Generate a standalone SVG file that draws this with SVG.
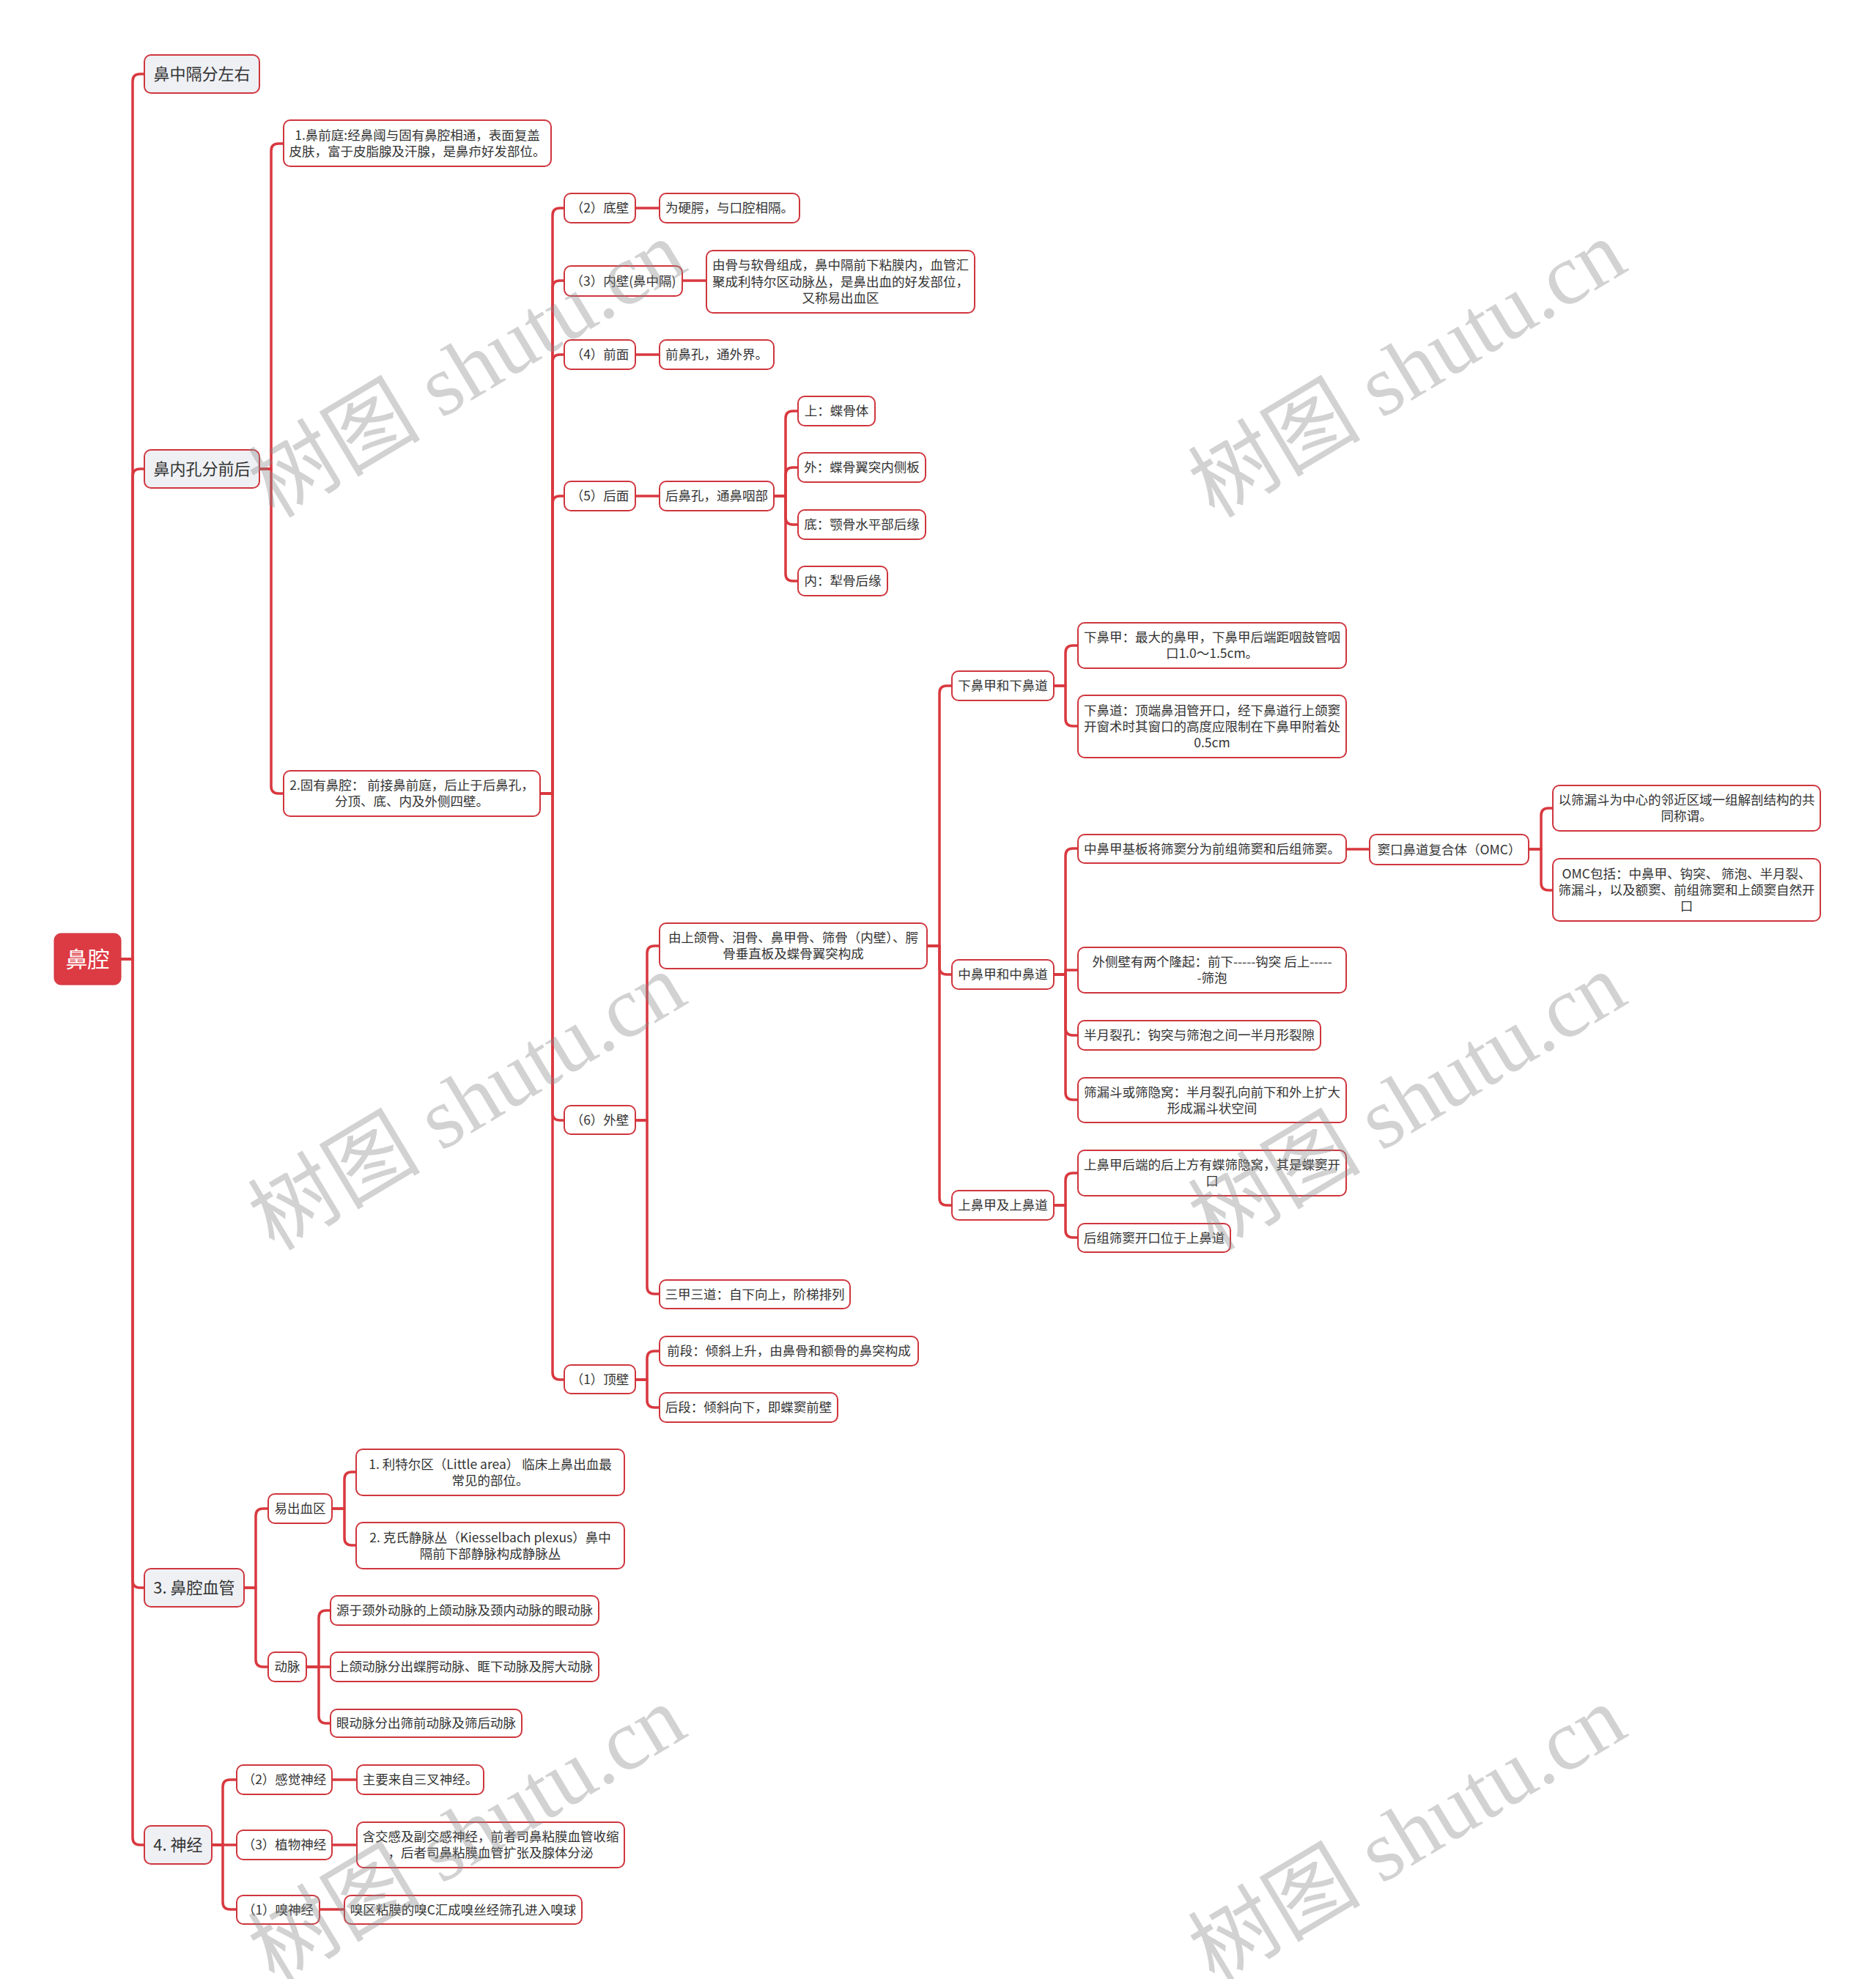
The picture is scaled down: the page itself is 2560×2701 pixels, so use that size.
<svg xmlns="http://www.w3.org/2000/svg" width="2560" height="2701" viewBox="0 0 2560 2701">
<style>
.n rect{fill:#fff;stroke:#cf363e;stroke-width:2}
.l1 rect{fill:#eef0f4}
.root rect{fill:#dd3b44;stroke:#d0343c;stroke-width:1}
text{font-family:"Noto Sans CJK SC","Noto Sans",sans-serif;font-size:17.5px;fill:#333;text-anchor:middle}
.l1 text{font-size:22px}
.root text{font-size:30px;fill:#fff}
.c path{fill:none;stroke:#d9383f;stroke-width:3.5;stroke-linejoin:round}
.wm text{font-family:"Liberation Serif","Noto Sans CJK SC",serif;font-size:118px;fill:#888;fill-opacity:0.38;text-anchor:middle}
</style>
<rect width="2560" height="2701" fill="#fff"/>
<g class="c" id="connectors">
<path d="M165 1309 H181 V111 Q181 101 191 101 H197"/>
<path d="M165 1309 H181 V650 Q181 640 191 640 H197"/>
<path d="M165 1309 H181 V2157 Q181 2167 191 2167 H197"/>
<path d="M165 1309 H181 V2508 Q181 2518 191 2518 H197"/>
<path d="M354 640 H370 V206 Q370 196 380 196 H387"/>
<path d="M354 640 H370 V1073 Q370 1083 380 1083 H387"/>
<path d="M737 1083 H754 V294 Q754 284 764 284 H770"/>
<path d="M737 1083 H754 V393 Q754 383 764 383 H770"/>
<path d="M737 1083 H754 V494 Q754 484 764 484 H770"/>
<path d="M737 1083 H754 V687 Q754 677 764 677 H770"/>
<path d="M737 1083 H754 V1519 Q754 1529 764 1529 H770"/>
<path d="M737 1083 H754 V1873 Q754 1883 764 1883 H770"/>
<path d="M867 284 H900"/>
<path d="M931 383 H964"/>
<path d="M867 484 H900"/>
<path d="M867 677 H900"/>
<path d="M1056 677 H1072 V571 Q1072 561 1082 561 H1089"/>
<path d="M1056 677 H1072 V648 Q1072 638 1082 638 H1089"/>
<path d="M1056 677 H1072 V706 Q1072 716 1082 716 H1089"/>
<path d="M1056 677 H1072 V783 Q1072 793 1082 793 H1089"/>
<path d="M867 1529 H883 V1301 Q883 1291 893 1291 H900"/>
<path d="M867 1529 H883 V1756 Q883 1766 893 1766 H900"/>
<path d="M1265 1291 H1282 V946 Q1282 936 1292 936 H1299"/>
<path d="M1265 1291 H1282 V1320 Q1282 1330 1292 1330 H1299"/>
<path d="M1265 1291 H1282 V1635 Q1282 1645 1292 1645 H1299"/>
<path d="M1438 936 H1454 V891 Q1454 881 1464 881 H1471"/>
<path d="M1438 936 H1454 V981 Q1454 991 1464 991 H1471"/>
<path d="M1438 1330 H1454 V1168 Q1454 1158 1464 1158 H1471"/>
<path d="M1438 1330 H1454 V1324 H1471"/>
<path d="M1438 1330 H1454 V1403 Q1454 1413 1464 1413 H1471"/>
<path d="M1438 1330 H1454 V1491 Q1454 1501 1464 1501 H1471"/>
<path d="M1837 1159 H1869"/>
<path d="M2086 1159 H2103 V1113 Q2103 1103 2113 1103 H2119"/>
<path d="M2086 1159 H2103 V1205 Q2103 1215 2113 1215 H2119"/>
<path d="M1438 1645 H1454 V1611 Q1454 1601 1464 1601 H1471"/>
<path d="M1438 1645 H1454 V1679 Q1454 1689 1464 1689 H1471"/>
<path d="M867 1883 H883 V1854 Q883 1844 893 1844 H900"/>
<path d="M867 1883 H883 V1911 Q883 1921 893 1921 H900"/>
<path d="M333 2167 H349 V2069 Q349 2059 359 2059 H366"/>
<path d="M333 2167 H349 V2265 Q349 2275 359 2275 H366"/>
<path d="M453 2059 H470 V2019 Q470 2009 480 2009 H486"/>
<path d="M453 2059 H470 V2099 Q470 2109 480 2109 H486"/>
<path d="M418 2275 H435 V2208 Q435 2198 445 2198 H451"/>
<path d="M418 2275 H451"/>
<path d="M418 2275 H435 V2342 Q435 2352 445 2352 H451"/>
<path d="M289 2518 H304 V2439 Q304 2429 314 2429 H323"/>
<path d="M289 2518 H323"/>
<path d="M289 2518 H304 V2596 Q304 2606 314 2606 H323"/>
<path d="M453 2429 H487"/>
<path d="M453 2518 H487"/>
<path d="M436 2606 H470"/>
</g>
<g class="root" id="n-root"><rect x="74" y="1274" width="91" height="70" rx="9"/><text x="119.5" y="1320">鼻腔</text></g>
<g class="n l1" id="n-1"><rect x="197" y="75" width="157" height="52" rx="9"/><text x="275.5" y="109">鼻中隔分左右</text></g>
<g class="n l1" id="n-2"><rect x="197" y="614" width="157" height="52" rx="9"/><text x="275.5" y="648">鼻内孔分前后</text></g>
<g class="n l1" id="n-3"><rect x="197" y="2141" width="136" height="52" rx="9"/><text x="265" y="2175">3. 鼻腔血管</text></g>
<g class="n l1" id="n-4"><rect x="197" y="2492" width="92" height="52" rx="9"/><text x="243" y="2526">4. 神经</text></g>
<g class="n" id="n-2-1"><rect x="387" y="164" width="365" height="63" rx="9"/><text x="569.5" y="191">1.鼻前庭:经鼻阈与固有鼻腔相通，表面复盖</text><text x="569.5" y="213">皮肤，富于皮脂腺及汗腺，是鼻疖好发部位。</text></g>
<g class="n" id="n-2-2"><rect x="387" y="1052" width="350" height="62" rx="9"/><text x="562" y="1078">2.固有鼻腔： 前接鼻前庭，后止于后鼻孔，</text><text x="562" y="1100">分顶、底、内及外侧四壁。</text></g>
<g class="n" id="n-a2"><rect x="770" y="264" width="97" height="40" rx="9"/><text x="818.5" y="290">（2）底壁</text></g>
<g class="n" id="n-a2-1"><rect x="900" y="264" width="191" height="40" rx="9"/><text x="995.5" y="290">为硬腭，与口腔相隔。</text></g>
<g class="n" id="n-a3"><rect x="770" y="363" width="161" height="41" rx="9"/><text x="850.5" y="390">（3）内壁(鼻中隔)</text></g>
<g class="n" id="n-a3-1"><rect x="964" y="342" width="366" height="85" rx="9"/><text x="1147" y="368">由骨与软骨组成，鼻中隔前下粘膜内，血管汇</text><text x="1147" y="391">聚成利特尔区动脉丛，是鼻出血的好发部位，</text><text x="1147" y="413">又称易出血区</text></g>
<g class="n" id="n-a4"><rect x="770" y="464" width="97" height="40" rx="9"/><text x="818.5" y="490">（4）前面</text></g>
<g class="n" id="n-a4-1"><rect x="900" y="464" width="156" height="40" rx="9"/><text x="978" y="490">前鼻孔，通外界。</text></g>
<g class="n" id="n-a5"><rect x="770" y="657" width="97" height="40" rx="9"/><text x="818.5" y="683">（5）后面</text></g>
<g class="n" id="n-a5-1"><rect x="900" y="657" width="156" height="40" rx="9"/><text x="978" y="683">后鼻孔，通鼻咽部</text></g>
<g class="n" id="n-a5-1-1"><rect x="1089" y="541" width="105" height="40" rx="9"/><text x="1141.5" y="567">上：蝶骨体</text></g>
<g class="n" id="n-a5-1-2"><rect x="1089" y="618" width="174" height="40" rx="9"/><text x="1176" y="644">外：蝶骨翼突内侧板</text></g>
<g class="n" id="n-a5-1-3"><rect x="1089" y="696" width="174" height="40" rx="9"/><text x="1176" y="722">底：颚骨水平部后缘</text></g>
<g class="n" id="n-a5-1-4"><rect x="1089" y="773" width="122" height="40" rx="9"/><text x="1150" y="799">内：犁骨后缘</text></g>
<g class="n" id="n-a6"><rect x="770" y="1509" width="97" height="39" rx="9"/><text x="818.5" y="1535">（6）外壁</text></g>
<g class="n" id="n-a6-1"><rect x="900" y="1260" width="365" height="62" rx="9"/><text x="1082.5" y="1286">由上颌骨、泪骨、鼻甲骨、筛骨（内壁）、腭</text><text x="1082.5" y="1308">骨垂直板及蝶骨翼突构成</text></g>
<g class="n" id="n-a6-2"><rect x="900" y="1747" width="260" height="39" rx="9"/><text x="1030" y="1773">三甲三道：自下向上，阶梯排列</text></g>
<g class="n" id="n-a1"><rect x="770" y="1863" width="97" height="39" rx="9"/><text x="818.5" y="1889">（1）顶壁</text></g>
<g class="n" id="n-a1-1"><rect x="900" y="1824" width="353" height="40" rx="9"/><text x="1076.5" y="1850">前段：倾斜上升，由鼻骨和额骨的鼻突构成</text></g>
<g class="n" id="n-a1-2"><rect x="900" y="1901" width="243" height="40" rx="9"/><text x="1021.5" y="1927">后段：倾斜向下，即蝶窦前壁</text></g>
<g class="n" id="n-b1"><rect x="1299" y="916" width="139" height="40" rx="9"/><text x="1368.5" y="942">下鼻甲和下鼻道</text></g>
<g class="n" id="n-b2"><rect x="1299" y="1310" width="139" height="40" rx="9"/><text x="1368.5" y="1336">中鼻甲和中鼻道</text></g>
<g class="n" id="n-b3"><rect x="1299" y="1625" width="139" height="40" rx="9"/><text x="1368.5" y="1651">上鼻甲及上鼻道</text></g>
<g class="n" id="n-b1-1"><rect x="1471" y="850" width="366" height="62" rx="9"/><text x="1654" y="876">下鼻甲：最大的鼻甲，下鼻甲后端距咽鼓管咽</text><text x="1654" y="898">口1.0～1.5cm。</text></g>
<g class="n" id="n-b1-2"><rect x="1471" y="949" width="366" height="85" rx="9"/><text x="1654" y="976">下鼻道：顶端鼻泪管开口，经下鼻道行上颌窦</text><text x="1654" y="998">开窗术时其窗口的高度应限制在下鼻甲附着处</text><text x="1654" y="1020">0.5cm</text></g>
<g class="n" id="n-b2-1"><rect x="1471" y="1139" width="366" height="39" rx="9"/><text x="1654" y="1165">中鼻甲基板将筛窦分为前组筛窦和后组筛窦。</text></g>
<g class="n" id="n-b2-1-1"><rect x="1869" y="1139" width="217" height="41" rx="9"/><text x="1977.5" y="1166">窦口鼻道复合体（OMC）</text></g>
<g class="n" id="n-omc-1"><rect x="2119" y="1072" width="365" height="62" rx="9"/><text x="2301.5" y="1098">以筛漏斗为中心的邻近区域一组解剖结构的共</text><text x="2301.5" y="1120">同称谓。</text></g>
<g class="n" id="n-omc-2"><rect x="2119" y="1172" width="365" height="85" rx="9"/><text x="2301.5" y="1199">OMC包括：中鼻甲、钩突、 筛泡、半月裂、</text><text x="2301.5" y="1221">筛漏斗，以及额窦、前组筛窦和上颌窦自然开</text><text x="2301.5" y="1243">口</text></g>
<g class="n" id="n-b2-2"><rect x="1471" y="1293" width="366" height="62" rx="9"/><text x="1654" y="1319">外侧壁有两个隆起：前下-----钩突 后上-----</text><text x="1654" y="1341">-筛泡</text></g>
<g class="n" id="n-b2-3"><rect x="1471" y="1393" width="331" height="40" rx="9"/><text x="1636.5" y="1419">半月裂孔：钩突与筛泡之间一半月形裂隙</text></g>
<g class="n" id="n-b2-4"><rect x="1471" y="1471" width="366" height="61" rx="9"/><text x="1654" y="1497">筛漏斗或筛隐窝：半月裂孔向前下和外上扩大</text><text x="1654" y="1519">形成漏斗状空间</text></g>
<g class="n" id="n-b3-1"><rect x="1471" y="1570" width="366" height="62" rx="9"/><text x="1654" y="1596">上鼻甲后端的后上方有蝶筛隐窝，其是蝶窦开</text><text x="1654" y="1618">口</text></g>
<g class="n" id="n-b3-2"><rect x="1471" y="1670" width="208" height="39" rx="9"/><text x="1575" y="1696">后组筛窦开口位于上鼻道</text></g>
<g class="n" id="n-3-1"><rect x="366" y="2039" width="87" height="40" rx="9"/><text x="409.5" y="2065">易出血区</text></g>
<g class="n" id="n-3-1-1"><rect x="486" y="1978" width="366" height="63" rx="9"/><text x="669" y="2005">1. 利特尔区（Little area） 临床上鼻出血最</text><text x="669" y="2027">常见的部位。</text></g>
<g class="n" id="n-3-1-2"><rect x="486" y="2078" width="366" height="63" rx="9"/><text x="669" y="2105">2. 克氏静脉丛（Kiesselbach plexus）鼻中</text><text x="669" y="2127">隔前下部静脉构成静脉丛</text></g>
<g class="n" id="n-3-2"><rect x="366" y="2255" width="52" height="40" rx="9"/><text x="392" y="2281">动脉</text></g>
<g class="n" id="n-3-2-1"><rect x="451" y="2178" width="366" height="40" rx="9"/><text x="634" y="2204">源于颈外动脉的上颌动脉及颈内动脉的眼动脉</text></g>
<g class="n" id="n-3-2-2"><rect x="451" y="2255" width="366" height="40" rx="9"/><text x="634" y="2281">上颌动脉分出蝶腭动脉、眶下动脉及腭大动脉</text></g>
<g class="n" id="n-3-2-3"><rect x="451" y="2333" width="261" height="38" rx="9"/><text x="581.5" y="2358">眼动脉分出筛前动脉及筛后动脉</text></g>
<g class="n" id="n-4-2"><rect x="323" y="2409" width="130" height="40" rx="9"/><text x="388" y="2435">（2）感觉神经</text></g>
<g class="n" id="n-4-2-1"><rect x="487" y="2409" width="173" height="40" rx="9"/><text x="573.5" y="2435">主要来自三叉神经。</text></g>
<g class="n" id="n-4-3"><rect x="323" y="2498" width="130" height="40" rx="9"/><text x="388" y="2524">（3）植物神经</text></g>
<g class="n" id="n-4-3-1"><rect x="487" y="2487" width="365" height="62" rx="9"/><text x="669.5" y="2513">含交感及副交感神经，前者司鼻粘膜血管收缩</text><text x="669.5" y="2535">，后者司鼻粘膜血管扩张及腺体分泌</text></g>
<g class="n" id="n-4-1"><rect x="323" y="2587" width="113" height="39" rx="9"/><text x="379.5" y="2613">（1）嗅神经</text></g>
<g class="n" id="n-4-1-1"><rect x="470" y="2587" width="324" height="39" rx="9"/><text x="632" y="2613">嗅区粘膜的嗅C汇成嗅丝经筛孔进入嗅球</text></g>
<g class="wm" id="watermarks">
<text transform="translate(658 538) rotate(-31)">树图 shutu.cn</text>
<text transform="translate(1941 538) rotate(-31)">树图 shutu.cn</text>
<text transform="translate(658 1538) rotate(-31)">树图 shutu.cn</text>
<text transform="translate(1941 1538) rotate(-31)">树图 shutu.cn</text>
<text transform="translate(658 2538) rotate(-31)">树图 shutu.cn</text>
<text transform="translate(1941 2538) rotate(-31)">树图 shutu.cn</text>
</g>
</svg>
